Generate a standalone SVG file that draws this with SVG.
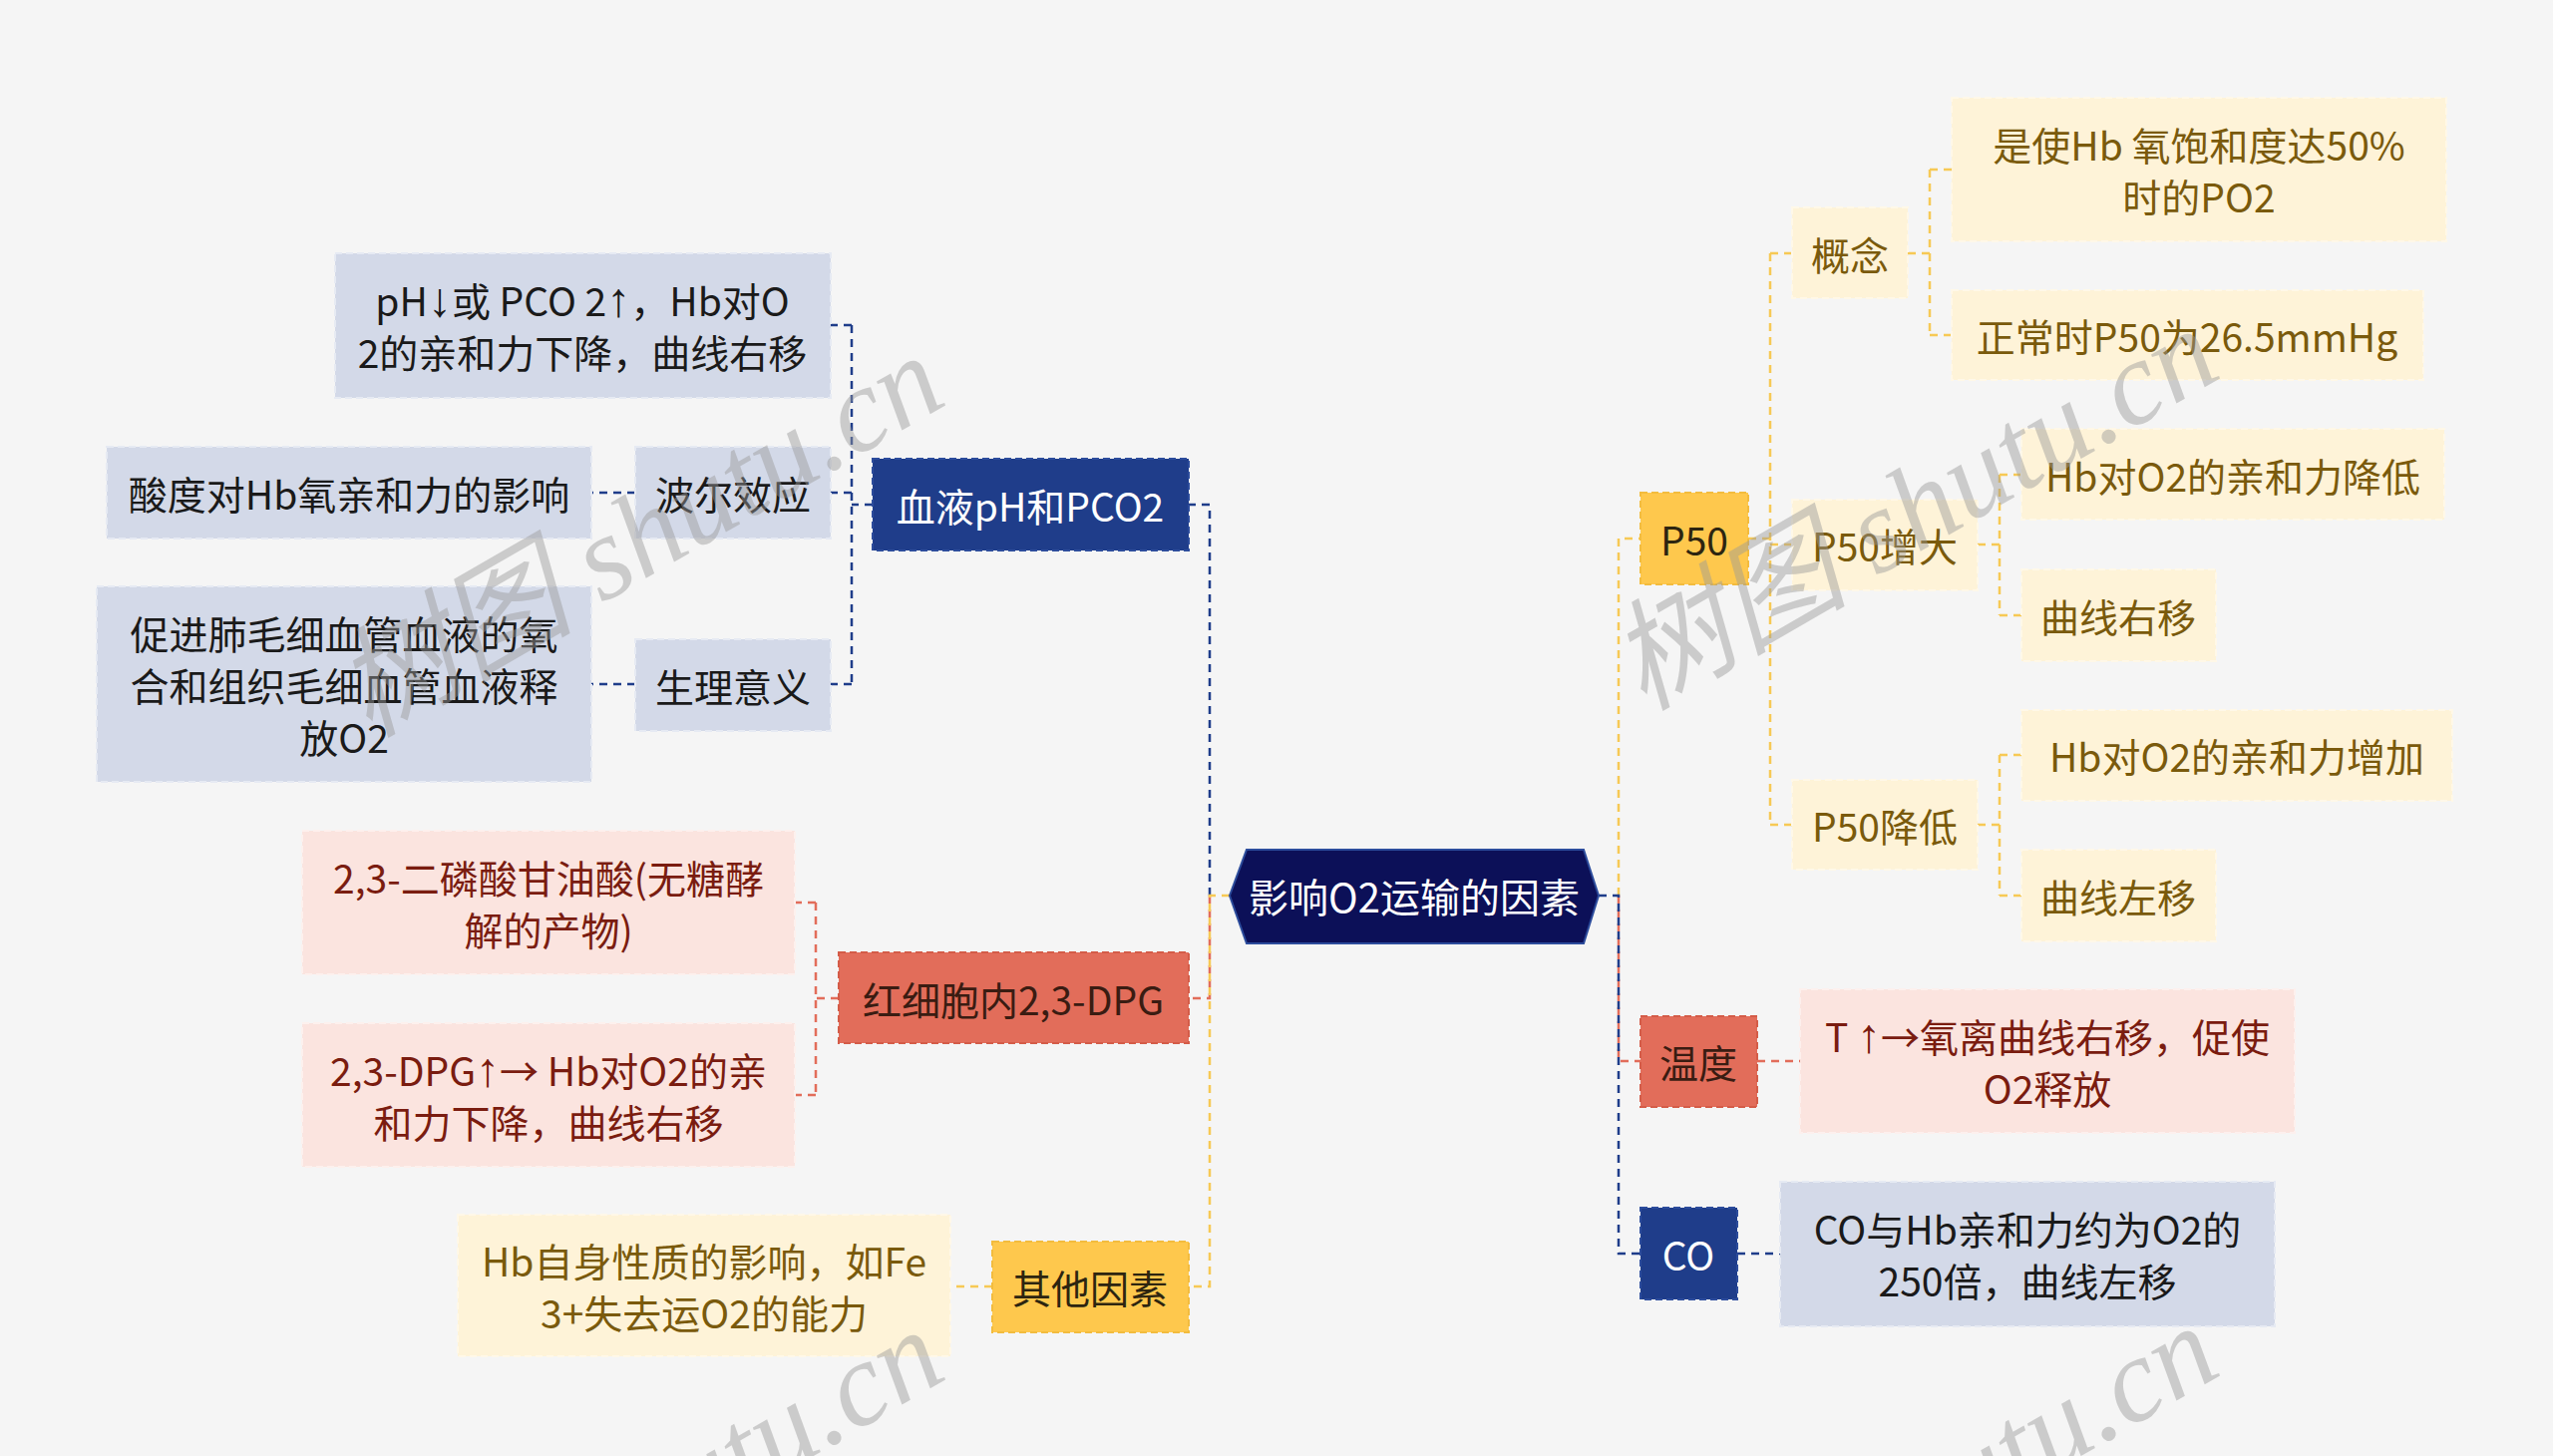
<svg xmlns="http://www.w3.org/2000/svg" width="2560" height="1460" viewBox="0 0 2560 1460">
<style>
.t{font-family:"Noto Sans CJK SC","Noto Sans",sans-serif;font-size:39px;text-anchor:middle;dominant-baseline:central}
.ar{font-family:"Liberation Sans","DejaVu Sans",sans-serif;font-size:48px}
.bm{fill:#1f3d8a;stroke:#2c4c9c;stroke-width:2;stroke-dasharray:7 4}
.bl{fill:#d3d9e8;stroke:#e6eaf3;stroke-width:2;stroke-dasharray:7 4}
.rm{fill:#e26d5a;stroke:#d45c48;stroke-width:2;stroke-dasharray:7 4}
.rl{fill:#fbe4df;stroke:#fdf0ed;stroke-width:2;stroke-dasharray:7 4}
.ym{fill:#fec84d;stroke:#f3bc3e;stroke-width:2;stroke-dasharray:7 4}
.yl{fill:#fef3d8;stroke:#fff8e8;stroke-width:2;stroke-dasharray:7 4}
.tw{fill:#ffffff}
.tk{fill:#1a1a1a}
.trm{fill:#3a1c12}
.trl{fill:#7a1c10}
.tym{fill:#2d2510}
.tyl{fill:#7a5a0c}
.c{fill:none;stroke-width:2.5;stroke-dasharray:8 6}
.cb{stroke:#1f3d8a}
.cr{stroke:#e26d5a}
.cy{stroke:#f7c955}
.wm{font-family:"Liberation Serif","Noto Sans CJK SC",serif;font-style:italic;font-size:120px;fill:#999;fill-opacity:.45;text-anchor:middle;dominant-baseline:central}
</style>
<rect width="2560" height="1460" fill="#f5f5f5"/>

<g id="connectors">
  <path class="c cb" d="M1213,898 V506 H1192"/>
  <path class="c cr" d="M1213,898 V1001 H1192"/>
  <path class="c cy" d="M1233,898 H1213 V1290 H1192"/>
  <path class="c cb" d="M875,506 H854 M854,326 V686 M854,326 H833 M854,494 H833 M854,686 H833 M637,494 H593 M637,686 H593"/>
  <path class="c cr" d="M841,1001 H818 M818,905 V1098 M818,905 H797 M818,1098 H797"/>
  <path class="c cy" d="M995,1290 H953"/>
  <path class="c cy" d="M1623,898 V540 H1645"/>
  <path class="c cr" d="M1623,898 V1064 H1645"/>
  <path class="c cb" d="M1603,898 H1623 V1257 H1645"/>
  <path class="c cy" d="M1753,540 H1775 M1775,254 V827 M1775,254 H1797 M1775,546 H1797 M1775,827 H1797"/>
  <path class="c cy" d="M1913,254 H1935 M1935,170 V336 M1935,170 H1957 M1935,336 H1957"/>
  <path class="c cy" d="M1983,546 H2005 M2005,476 V617 M2005,476 H2027 M2005,617 H2027"/>
  <path class="c cy" d="M1983,827 H2005 M2005,757 V898 M2005,757 H2027 M2005,898 H2027"/>
  <path class="c cr" d="M1762,1064 H1805"/>
  <path class="c cb" d="M1742,1257 H1785"/>
</g>

<g id="root">
  <polygon points="1233,898 1250,852 1588,852 1603,898 1588,946 1250,946" fill="#0c1058" stroke="#2c4c9c" stroke-width="2"/>
  <text class="t tw" x="1418" y="898" style="font-size:40px">影响O2运输的因素</text>
</g>

<g id="n-blood">
  <rect class="bm" x="875" y="460" width="317" height="92"/>
  <text class="t tw" x="1033" y="506">血液pH和PCO2</text>
</g>
<g id="n-bohr">
  <rect class="bl" x="637" y="448" width="196" height="92"/>
  <text class="t tk" x="735" y="494">波尔效应</text>
</g>
<g id="n-acid">
  <rect class="bl" x="107" y="448" width="486" height="92"/>
  <text class="t tk" x="350" y="494">酸度对Hb氧亲和力的影响</text>
</g>
<g id="n-ph">
  <rect class="bl" x="336" y="254" width="497" height="145"/>
  <text class="t tk" x="584" y="326"><tspan x="584" dy="-26">pH<tspan class="ar">↓</tspan>或 PCO 2<tspan class="ar">↑</tspan>，Hb对O</tspan><tspan x="584" dy="52">2的亲和力下降，曲线右移</tspan></text>
</g>
<g id="n-sig">
  <rect class="bl" x="637" y="641" width="196" height="92"/>
  <text class="t tk" x="735" y="687">生理意义</text>
</g>
<g id="n-promote">
  <rect class="bl" x="97" y="588" width="496" height="196"/>
  <text class="t tk" x="345" y="686"><tspan x="345" dy="-52">促进肺毛细血管血液的氧</tspan><tspan x="345" dy="52">合和组织毛细血管血液释</tspan><tspan x="345" dy="52">放O2</tspan></text>
</g>
<g id="n-rbc">
  <rect class="rm" x="841" y="955" width="351" height="91"/>
  <text class="t trm" x="1016" y="1001">红细胞内2,3-DPG</text>
</g>
<g id="n-dpg1">
  <rect class="rl" x="303" y="833" width="494" height="144"/>
  <text class="t trl" x="550" y="905"><tspan x="550" dy="-26">2,3-二磷酸甘油酸(无糖酵</tspan><tspan x="550" dy="52">解的产物)</tspan></text>
</g>
<g id="n-dpg2">
  <rect class="rl" x="303" y="1026" width="494" height="144"/>
  <text class="t trl" x="550" y="1098"><tspan x="550" dy="-26">2,3-DPG<tspan class="ar">↑</tspan>→ Hb对O2的亲</tspan><tspan x="550" dy="52">和力下降，曲线右移</tspan></text>
</g>
<g id="n-other">
  <rect class="ym" x="995" y="1245" width="197" height="91"/>
  <text class="t tym" x="1093" y="1290">其他因素</text>
</g>
<g id="n-hb">
  <rect class="yl" x="459" y="1218" width="494" height="142"/>
  <text class="t tyl" x="706" y="1289"><tspan x="706" dy="-26">Hb自身性质的影响，如Fe</tspan><tspan x="706" dy="52">3+失去运O2的能力</tspan></text>
</g>

<g id="n-p50">
  <rect class="ym" x="1645" y="494" width="108" height="92"/>
  <text class="t tym" x="1699" y="540">P50</text>
</g>
<g id="n-concept">
  <rect class="yl" x="1797" y="208" width="116" height="91"/>
  <text class="t tyl" x="1855" y="254">概念</text>
</g>
<g id="n-def">
  <rect class="yl" x="1957" y="98" width="496" height="144"/>
  <text class="t tyl" x="2205" y="170"><tspan x="2205" dy="-26">是使Hb 氧饱和度达50%</tspan><tspan x="2205" dy="52">时的PO2</tspan></text>
</g>
<g id="n-normal">
  <rect class="yl" x="1957" y="291" width="473" height="90"/>
  <text class="t tyl" x="2193" y="336">正常时P50为26.5mmHg</text>
</g>
<g id="n-inc">
  <rect class="yl" x="1797" y="501" width="186" height="91"/>
  <text class="t tyl" x="1890" y="546">P50增大</text>
</g>
<g id="n-lowaff">
  <rect class="yl" x="2027" y="430" width="424" height="91"/>
  <text class="t tyl" x="2239" y="476">Hb对O2的亲和力降低</text>
</g>
<g id="n-right">
  <rect class="yl" x="2027" y="571" width="195" height="92"/>
  <text class="t tyl" x="2124" y="617">曲线右移</text>
</g>
<g id="n-dec">
  <rect class="yl" x="1797" y="782" width="186" height="90"/>
  <text class="t tyl" x="1890" y="827">P50降低</text>
</g>
<g id="n-highaff">
  <rect class="yl" x="2027" y="712" width="432" height="91"/>
  <text class="t tyl" x="2243" y="757">Hb对O2的亲和力增加</text>
</g>
<g id="n-left">
  <rect class="yl" x="2027" y="852" width="195" height="92"/>
  <text class="t tyl" x="2124" y="898">曲线左移</text>
</g>
<g id="n-temp">
  <rect class="rm" x="1645" y="1019" width="117" height="91"/>
  <text class="t trm" x="1703" y="1064">温度</text>
</g>
<g id="n-temptext">
  <rect class="rl" x="1805" y="992" width="496" height="144"/>
  <text class="t trl" x="2053" y="1064"><tspan x="2053" dy="-26">T <tspan class="ar">↑</tspan>→氧离曲线右移，促使</tspan><tspan x="2053" dy="52">O2释放</tspan></text>
</g>
<g id="n-co">
  <rect class="bm" x="1645" y="1211" width="97" height="92"/>
  <text class="t tw" x="1693" y="1257">CO</text>
</g>
<g id="n-cotext">
  <rect class="bl" x="1785" y="1185" width="496" height="145"/>
  <text class="t tk" x="2033" y="1257"><tspan x="2033" dy="-26">CO与Hb亲和力约为O2的</tspan><tspan x="2033" dy="52">250倍，曲线左移</tspan></text>
</g>

<g id="watermarks">
  <text class="wm" transform="translate(641,537) rotate(-30)">树图 shutu.cn</text>
  <text class="wm" transform="translate(1919,510) rotate(-30)">树图 shutu.cn</text>
  <text class="wm" transform="translate(641,1514) rotate(-30)">树图 shutu.cn</text>
  <text class="wm" transform="translate(1919,1510) rotate(-30)">树图 shutu.cn</text>
</g>
</svg>
